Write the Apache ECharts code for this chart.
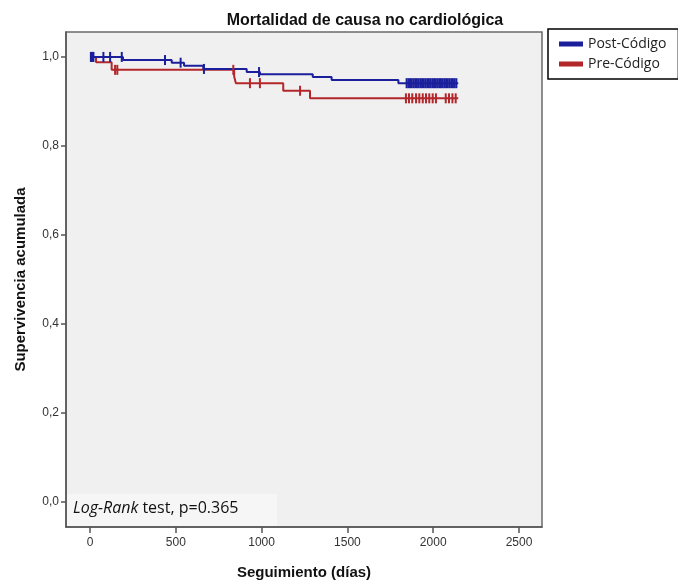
<!DOCTYPE html>
<html>
<head>
<meta charset="utf-8">
<script src="https://cdn.jsdelivr.net/npm/echarts@6/dist/echarts.min.js"></script>
<style>
html,body{margin:0;padding:0;background:#fff;}
#chart{width:678px;height:585px;}
</style>
</head>
<body>
<div id="chart"></div>
<script>
// ---- data ----
const title = 'Mortalidad de causa no cardiológica';
const seriesNames = ['Post-Código', 'Pre-Código'];
const xTicks = [0, 500, 1000, 1500, 2000, 2500];
const yTicks = [0, 0.2, 0.4, 0.6, 0.8, 1.0];

// Kaplan-Meier steps: event times (days) and survival after the event
const postTimes = [0, 192, 476, 548, 660, 913, 990, 1298, 1408, 1797, 2146];
const postSurv  = [1.0, 0.993, 0.987, 0.980, 0.973, 0.966, 0.961, 0.955, 0.948, 0.941, 0.941];
const preTimes  = [0, 35, 126, 840, 850, 1126, 1282, 2146];
const preSurv   = [1.0, 0.988, 0.971, 0.956, 0.941, 0.924, 0.907, 0.907];

// censored observations (days)
const postCensored = [5, 10, 15, 20, 78, 117, 185, 437, 528, 664, 985,
  1845, 1855, 1865, 1875, 1885, 1895, 1905, 1915, 1925, 1935, 1945, 1955, 1965, 1975, 1985,
  1995, 2005, 2015, 2025, 2035, 2045, 2055, 2065, 2075, 2085, 2095, 2105, 2115, 2125, 2135];
const preCensored = [146, 159, 835, 932, 990, 1224,
  1841, 1859, 1878, 1900, 1919, 1939, 1958, 1977, 1997, 2016, 2073, 2092, 2112, 2131];

const annotationItalic = 'Log-Rank';
const annotationRest = ' test, p=0.365';

// ---- build ----
function survAt(times, surv, t) {
  let s = surv[0];
  for (let i = 0; i < times.length; i++) { if (times[i] <= t) s = surv[i]; }
  return s;
}
const pairs = (a, b) => a.map((v, i) => [v, b[i]]);
const cens = (c, times, surv) => c.map(t => [t, survAt(times, surv, t)]);

const blue = '#1c1f9c';
const red = '#b3262a';

const chart = echarts.init(document.getElementById('chart'));
chart.setOption({
  backgroundColor: '#ffffff',
  animation: false,
  title: {
    text: title, left: 360, top: 8, textAlign: 'center',
    textStyle: { fontFamily: 'Liberation Sans', fontSize: 16, fontWeight: 'bold', color: '#111' }
  },
  legend: {
    orient: 'vertical', left: 548, top: 29,
    data: seriesNames,
    icon: 'rect', itemWidth: 24, itemHeight: 5, itemGap: 6,
    padding: [8, 12, 8, 11],
    borderColor: '#000', borderWidth: 1.5, borderRadius: 0,
    textStyle: { fontFamily: 'Open Sans', fontSize: 14, color: '#222' }
  },
  grid: {
    left: 66, top: 32, right: 136, bottom: 58, show: true,
    backgroundColor: '#f0f0f0', borderColor: '#6a6a6a', borderWidth: 1.5
  },
  xAxis: {
    type: 'value', min: -140, max: 2634,
    name: 'Seguimiento (días)', nameLocation: 'middle', nameGap: 38,
    nameTextStyle: { fontFamily: 'Liberation Sans', fontSize: 15, fontWeight: 'bold', color: '#111' },
    axisLine: { show: true, onZero: false, lineStyle: { color: '#555', width: 1.5 } },
    axisTick: { show: true, length: 6, customValues: xTicks, lineStyle: { color: '#555', width: 1.5 } },
    axisLabel: { customValues: xTicks, fontFamily: 'Liberation Sans', fontSize: 12, color: '#333', margin: 10,
      formatter: v => String(v) },
    splitLine: { show: false }
  },
  yAxis: {
    type: 'value', min: -0.056, max: 1.056,
    name: 'Supervivencia acumulada', nameLocation: 'middle', nameGap: 38,
    nameTextStyle: { fontFamily: 'Liberation Sans', fontSize: 15, fontWeight: 'bold', color: '#111' },
    axisLine: { show: true, onZero: false, lineStyle: { color: '#555', width: 1.5 } },
    axisTick: { show: true, length: 5, customValues: yTicks, lineStyle: { color: '#555', width: 1.5 } },
    axisLabel: { customValues: yTicks, fontFamily: 'Liberation Sans', fontSize: 12, color: '#333', margin: 7,
      formatter: v => v.toFixed(1).replace('.', ',') },
    splitLine: { show: false }
  },
  graphic: [
    { type: 'rect', left: 67, top: 494, shape: { width: 210, height: 32 }, style: { fill: '#f6f6f6' }, z: 0, silent: true },
    { type: 'text', left: 73, top: 500, z: 100,
      style: { rich: { i: { fontStyle: 'italic', fontFamily: 'Open Sans', fontSize: 16, fill: '#111' },
                       n: { fontFamily: 'Open Sans', fontSize: 16, fill: '#111' } },
               text: '{i|' + annotationItalic + '}{n|' + annotationRest + '}' } }
  ],
  series: [
    { name: seriesNames[0], type: 'line', step: 'end', showSymbol: false, symbol: 'none',
      data: pairs(postTimes, postSurv), lineStyle: { color: blue, width: 2 }, itemStyle: { color: blue }, z: 3 },
    { name: seriesNames[1], type: 'line', step: 'end', showSymbol: false, symbol: 'none',
      data: pairs(preTimes, preSurv), lineStyle: { color: red, width: 2 }, itemStyle: { color: red }, z: 2 },
    { name: seriesNames[0], type: 'scatter', symbol: 'rect', symbolSize: [2, 10],
      data: cens(postCensored, postTimes, postSurv), itemStyle: { color: blue, opacity: 1 }, z: 4 },
    { name: seriesNames[1], type: 'scatter', symbol: 'rect', symbolSize: [2, 10],
      data: cens(preCensored, preTimes, preSurv), itemStyle: { color: red, opacity: 1 }, z: 3 }
  ]
});
</script>
</body>
</html>
